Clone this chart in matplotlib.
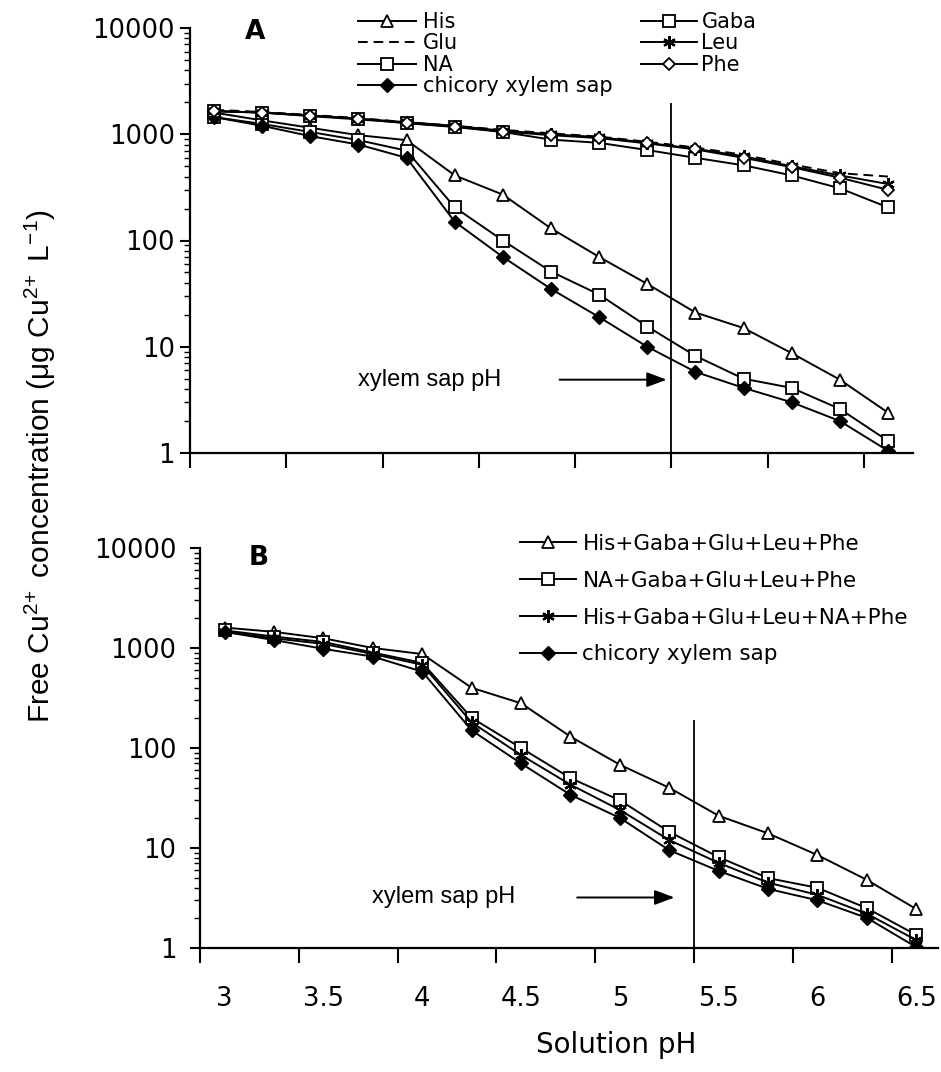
import matplotlib
matplotlib.use("Agg")
import matplotlib.pyplot as plt
from matplotlib import font_manager

# Solution pH values (same for every series)
ph = [3.0, 3.25, 3.5, 3.75, 4.0, 4.25, 4.5, 4.75, 5.0, 5.25, 5.5, 5.75, 6.0, 6.25, 6.5]

# Panel A: single ligands, free Cu2+ (ug/L)
his = [1600, 1350, 1150, 980, 880, 410, 270, 130, 70, 39, 21, 15, 8.7, 4.9, 2.4]
glu = [1700, 1620, 1520, 1420, 1300, 1200, 1100, 1020, 950, 850, 750, 640, 520, 430, 400]
na = [1450, 1250, 1050, 880, 700, 205, 100, 51, 31, 15.5, 8.2, 5.0, 4.1, 2.6, 1.3]
sap_a = [1450, 1200, 960, 800, 600, 150, 70, 35, 19, 10, 5.8, 4.1, 3.0, 2.0, 1.05]
gaba = [1650, 1600, 1500, 1400, 1270, 1170, 1050, 890, 830, 710, 600, 510, 410, 310, 205]
leu = [1650, 1600, 1500, 1400, 1300, 1200, 1080, 1000, 940, 830, 730, 620, 500, 410, 340]
phe = [1650, 1600, 1480, 1380, 1280, 1180, 1060, 980, 920, 820, 720, 600, 490, 390, 300]

# Panel B: ligand mixtures
mix_his = [1600, 1450, 1250, 1000, 870, 400, 280, 130, 68, 40, 21, 14, 8.5, 4.8, 2.45]
mix_na = [1500, 1300, 1150, 900, 710, 200, 100, 50, 30, 14.5, 8.1, 5.0, 4.0, 2.5, 1.35]
mix_all = [1450, 1250, 1100, 870, 680, 180, 85, 43, 24, 12, 7.1, 4.5, 3.4, 2.2, 1.2]
sap_b = [1450, 1200, 980, 820, 580, 150, 70, 34, 20, 9.5, 5.9, 3.9, 3.0, 2.0, 1.02]

xylem_ph = 5.375
tick_pos = [2.875 + 0.5 * k for k in range(8)]
tick_lab = ["3", "3.5", "4", "4.5", "5", "5.5", "6", "6.5"]
ytick_val = [1, 10, 100, 1000, 10000]
ytick_lab = ["1", "10", "100", "1000", "10000"]

names = {f.name for f in font_manager.fontManager.ttflist}
narrow = "Liberation Sans Narrow" if "Liberation Sans Narrow" in names else "Liberation Sans"
plt.rcParams["font.family"] = "DejaVu Sans"

ast = (6, 2, 0)
lw = 1.4
ms = 8
open_kw = dict(color="black", lw=lw, ms=ms, mfc="white", mec="black", mew=1.3)

fig = plt.figure(figsize=(9.41, 10.72), dpi=100)
axA = fig.add_axes([190 / 941, 1 - 453 / 1072, (913 - 190) / 941, (453 - 28) / 1072])
axB = fig.add_axes([200 / 941, 1 - 948 / 1072, (938 - 200) / 941, (948 - 548) / 1072])

# --- panel A ---
lA = {}
lA["His"], = axA.plot(ph, his, marker="^", **open_kw)
lA["Glu"], = axA.plot(ph, glu, color="black", lw=lw, ls=(0, (5, 3)))
lA["NA"], = axA.plot(ph, na, marker="s", **open_kw)
lA["chicory xylem sap"], = axA.plot(ph, sap_a, marker="D", color="black", lw=lw, ms=7)
lA["Gaba"], = axA.plot(ph, gaba, marker="s", **open_kw)
lA["Leu"], = axA.plot(ph, leu, marker=ast, color="black", lw=lw, ms=ms + 1, mew=1.6)
lA["Phe"], = axA.plot(ph, phe, marker="D", **dict(open_kw, ms=6.5))

axA.set_xlim(2.875, 6.63)

leg_kw = dict(loc="upper left", bbox_transform=fig.transFigure, frameon=False,
              borderpad=0, borderaxespad=0)
leg1 = axA.legend([lA[k] for k in ["His", "Glu", "NA", "chicory xylem sap"]],
                  ["His", "Glu", "NA", "chicory xylem sap"],
                  bbox_to_anchor=(358 / 941, 1 - 12 / 1072), fontsize=15,
                  labelspacing=0.07, handlelength=2.8, handletextpad=0.3, **leg_kw)
axA.add_artist(leg1)
axA.legend([lA[k] for k in ["Gaba", "Leu", "Phe"]], ["Gaba", "Leu", "Phe"],
           bbox_to_anchor=(641 / 941, 1 - 12 / 1072), fontsize=15,
           labelspacing=0.07, handlelength=2.7, handletextpad=0.2, **leg_kw)

# --- panel B ---
lB = []
lB.append(axB.plot(ph, mix_his, marker="^", **open_kw)[0])
lB.append(axB.plot(ph, mix_na, marker="s", **open_kw)[0])
lB.append(axB.plot(ph, mix_all, marker=ast, color="black", lw=lw, ms=ms + 1, mew=1.6)[0])
lB.append(axB.plot(ph, sap_b, marker="D", color="black", lw=lw, ms=7)[0])
axB.legend(lB, ["His+Gaba+Glu+Leu+Phe", "NA+Gaba+Glu+Leu+Phe",
                "His+Gaba+Glu+Leu+NA+Phe", "chicory xylem sap"],
           bbox_to_anchor=(520 / 941, 1 - 534 / 1072), fontsize=15.5,
           labelspacing=0.78, handlelength=2.6, handletextpad=0.3, **leg_kw)
axB.set_xlim(2.875, 6.61)

for ax, lab, pad, lx in [(axA, "A", 4, 0.09), (axB, "B", 10, 0.079)]:
    ax.set_yscale("log")
    ax.set_ylim(1, 10000)
    ax.set_yticks(ytick_val)
    ax.set_yticklabels(ytick_lab)
    ax.tick_params(axis="y", which="major", length=7, width=1.5, labelsize=18.5, pad=pad)
    ax.tick_params(axis="y", which="minor", length=4, width=1.0)
    ax.set_xticks(tick_pos)
    ax.set_xticklabels([])
    ax.tick_params(axis="x", which="major", length=11, width=1.5)
    for s in ["top", "right"]:
        ax.spines[s].set_visible(False)
    for s in ["left", "bottom"]:
        ax.spines[s].set_linewidth(1.6)
    ax.vlines(xylem_ph, 1, 1950 if lab == "A" else 190, color="black", lw=1.3)
    ax.text(lx, 0.99 if lab == "A" else 0.975, lab, transform=ax.transAxes,
            fontsize=19, fontweight="bold", ha="center", va="center")

# xylem sap pH arrows
arrow = dict(arrowstyle="-|>,head_length=1.2,head_width=0.45", color="black", lw=1.4)
axA.text(3.75, 4.9, "xylem sap pH", fontsize=17, va="center", ha="left", family=narrow)
axA.annotate("", xy=(5.365, 4.9), xytext=(4.78, 4.9), arrowprops=arrow)
axB.text(3.745, 3.2, "xylem sap pH", fontsize=17, va="center", ha="left", family=narrow)
axB.annotate("", xy=(5.29, 3.2), xytext=(4.77, 3.2), arrowprops=arrow)

# pH labels under panel B sit on the data values, not on the tick marks
axB.set_xticks(ph[::2], minor=True)
axB.set_xticklabels(tick_lab, minor=True)
axB.tick_params(axis="x", which="minor", length=0, labelsize=18.5, pad=27)

fig.text(616 / 941, 1 - 1045 / 1072, "Solution pH", fontsize=20, ha="center", va="center")
fig.text(40 / 941, 1 - 466 / 1072,
         r"Free Cu$^{\mathregular{2\!+}}$ concentration ($\mathregular{\mu}$g Cu$^{\mathregular{2\!+}}$ L$^{\mathregular{-1}}$)",
         rotation=90, fontsize=21.5, ha="center", va="center", family=narrow)

fig.savefig("out.png", dpi=100)
